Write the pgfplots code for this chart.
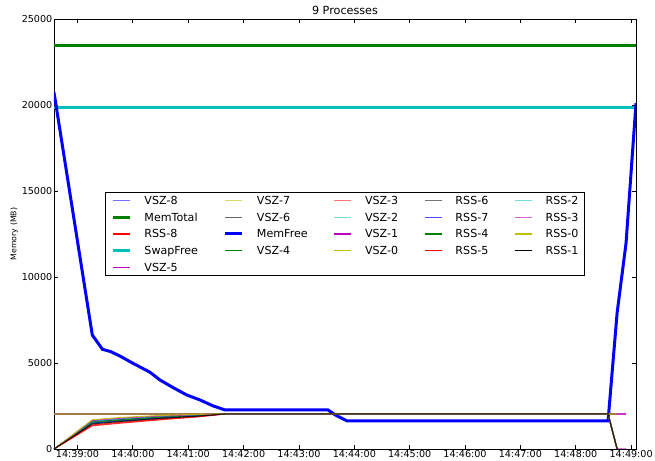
\documentclass[border=0pt]{standalone}
\usepackage{pgfplots}
\pgfplotsset{compat=1.18}
\usepackage{fontspec}
\setmainfont{DejaVu Sans}

% classic matplotlib colour cycle
\definecolor{mb}{HTML}{0000FF}
\definecolor{mg}{HTML}{008000}
\definecolor{mr}{HTML}{FF0000}
\definecolor{mc}{HTML}{00BFBF}
\definecolor{mm}{HTML}{BF00BF}
\definecolor{my}{HTML}{BFBF00}
\definecolor{mk}{HTML}{000000}

\pgfplotsset{
  vsz/.style={line width=1.4bp, opacity=0.5, forget plot},
  rss/.style={line width=1.1bp, opacity=0.8, forget plot},
  big/.style={line width=3bp, forget plot},
  thin/.style={line width=1.3bp},
}

\begin{document}
\begin{tikzpicture}
\begin{axis}[
  name=main,
  scale only axis,
  width=582bp, height=430bp,
  xmin=-25.5, xmax=605.3,
  ymin=0, ymax=25000,
  xtick={0,60,120,180,240,300,360,420,480,540,600},
  xticklabels={14:39:00,14:40:00,14:41:00,14:42:00,14:43:00,14:44:00,14:45:00,14:46:00,14:47:00,14:48:00,14:49:00},
  ytick={0,5000,10000,15000,20000,25000},
  scaled y ticks=false,
  /pgf/number format/1000 sep={},
  /pgf/number format/assume math mode=true,
  tick label style={font=\fontsize{9.6bp}{11bp}\selectfont, inner sep=1.5bp},
  axis line style={line width=0.8bp},
  tick style={black, line width=0.8bp},
  major tick length=4bp,
  title={9 Processes},
  title style={font=\fontsize{11.2bp}{13bp}\selectfont, inner sep=2bp, yshift=-3.5bp},
  ylabel={Memory (MB)},
  ylabel style={font=\fontsize{7.8bp}{9bp}\selectfont, inner sep=2bp},
  legend image code/.code={\draw[#1] (0bp,0bp) -- (17bp,0bp);},
  legend style={
    at={(0.5,0.5)}, anchor=center,
    legend columns=5,
    font=\fontsize{11.1bp}{13bp}\selectfont,
    draw=black, line width=0.8bp,
    inner xsep=6bp, inner ysep=2bp,
    row sep=5.2bp,
    nodes={inner xsep=0bp, inner ysep=0bp, text height=9.6bp, text depth=1.9bp},
    /tikz/every odd column/.append style={column sep=13bp},
    /tikz/every even column/.append style={column sep=26bp},
  },
  legend cell align=left,
]

% ---- series, in plotting order ----
% VSZ-8
\addplot[vsz, color=mb] coordinates {(-25.5,2040) (575,2040) (584.8,2040)};
% MemTotal
\addplot[big, color=mg] coordinates {(-25.5,23460) (605.3,23460)};
% RSS-8
\addplot[rss, color=mr] coordinates {(-25.5,0) (16,1350) (46,1500) (90,1700) (133,1880) (160,2040) (575,2040) (584.8,0)};
% SwapFree
\addplot[big, color=mc] coordinates {(-25.5,19850) (605.3,19850)};
% VSZ-5
\addplot[vsz, color=mm, opacity=0.8] coordinates {(-25.5,2040) (575,2040) (584.8,2040) (594.5,2040)};
% VSZ-7
\addplot[vsz, color=my] coordinates {(-25.5,2040) (575,2040) (584.8,2040)};
% VSZ-6
\addplot[vsz, color=mk] coordinates {(-25.5,2040) (575,2040) (584.8,2040)};
% MemFree
\addplot[big, color=mb] coordinates {
  (-25.5,20730) (16,6630) (26.9,5800) (36,5660) (46.1,5400) (58.8,5020)
  (78.6,4460) (89.4,4010) (103.9,3560) (118.4,3140) (132.8,2850)
  (147.2,2500) (159.9,2270) (271.5,2270) (279,1990) (292.1,1630)
  (575,1630) (584.8,7900) (594.5,11970) (605.3,20100)};
% VSZ-4
\addplot[vsz, color=mg] coordinates {(-25.5,2040) (575,2040) (584.8,2040)};
% VSZ-3
\addplot[vsz, color=mr] coordinates {(-25.5,2040) (575,2040) (584.8,2040)};
% VSZ-2
\addplot[vsz, color=mc] coordinates {(-25.5,2040) (575,2040) (584.8,2040)};
% VSZ-1
\addplot[vsz, color=mm] coordinates {(-25.5,2040) (575,2040) (584.8,2040)};
% VSZ-0
\addplot[vsz, color=my] coordinates {(-25.5,2040) (575,2040) (584.8,2040)};
% RSS-6
\addplot[rss, color=mk] coordinates {(-25.5,0) (16,1590) (46,1710) (90,1870) (133,1970) (160,2040) (575,2040) (584.8,0)};
% RSS-7
\addplot[rss, color=mb] coordinates {(-25.5,0) (16,1510) (46,1640) (90,1810) (133,1940) (160,2040) (575,2040) (584.8,0)};
% RSS-4
\addplot[rss, color=mg] coordinates {(-25.5,0) (16,1550) (46,1680) (90,1840) (133,1955) (160,2040) (575,2040) (584.8,0)};
% RSS-5
\addplot[rss, color=mr] coordinates {(-25.5,0) (16,1400) (46,1550) (90,1740) (133,1900) (160,2040) (575,2040) (584.8,0)};
% RSS-2
\addplot[rss, color=mc] coordinates {(-25.5,0) (16,1620) (46,1750) (90,1900) (133,1985) (160,2040) (575,2040) (584.8,0)};
% RSS-3
\addplot[rss, color=mm] coordinates {(-25.5,0) (16,1660) (46,1790) (90,1920) (133,2000) (160,2040) (575,2040) (584.8,0) (594.5,0)};
% RSS-0
\addplot[rss, color=my] coordinates {(-25.5,0) (16,1700) (46,1830) (90,1950) (133,2020) (160,2040) (575,2040) (584.8,0)};
% RSS-1
\addplot[rss, color=mk] coordinates {(-25.5,0) (16,1460) (46,1600) (90,1780) (133,1920) (160,2040) (575,2040) (584.8,0)};

% ---- legend, filled row by row ----
\addlegendimage{thin, color=mb!55}\addlegendentry{VSZ-8}
\addlegendimage{thin, color=my!60}\addlegendentry{VSZ-7}
\addlegendimage{thin, color=mr!55}\addlegendentry{VSZ-3}
\addlegendimage{thin, color=mk!55}\addlegendentry{RSS-6}
\addlegendimage{thin, color=mc!55}\addlegendentry{RSS-2}

\addlegendimage{color=mg, line width=3bp}\addlegendentry{MemTotal}
\addlegendimage{thin, color=mk!60}\addlegendentry{VSZ-6}
\addlegendimage{thin, color=mc!55}\addlegendentry{VSZ-2}
\addlegendimage{thin, color=mb!70}\addlegendentry{RSS-7}
\addlegendimage{thin, color=mm!60}\addlegendentry{RSS-3}

\addlegendimage{thin, color=mr}\addlegendentry{RSS-8}
\addlegendimage{color=mb, line width=3bp}\addlegendentry{MemFree}
\addlegendimage{thin, color=mm}\addlegendentry{VSZ-1}
\addlegendimage{thin, color=mg}\addlegendentry{RSS-4}
\addlegendimage{thin, color=my}\addlegendentry{RSS-0}

\addlegendimage{color=mc, line width=3bp}\addlegendentry{SwapFree}
\addlegendimage{thin, color=mg}\addlegendentry{VSZ-4}
\addlegendimage{thin, color=my}\addlegendentry{VSZ-0}
\addlegendimage{thin, color=mr}\addlegendentry{RSS-5}
\addlegendimage{thin, color=mk}\addlegendentry{RSS-1}

\addlegendimage{thin, color=mm}\addlegendentry{VSZ-5}
\end{axis}
\pgfresetboundingbox
\path[use as bounding box]
  ([xshift=-54bp,yshift=-12bp]main.south west)
  rectangle ([xshift=19bp,yshift=19bp]main.north east);
\end{tikzpicture}
\end{document}
